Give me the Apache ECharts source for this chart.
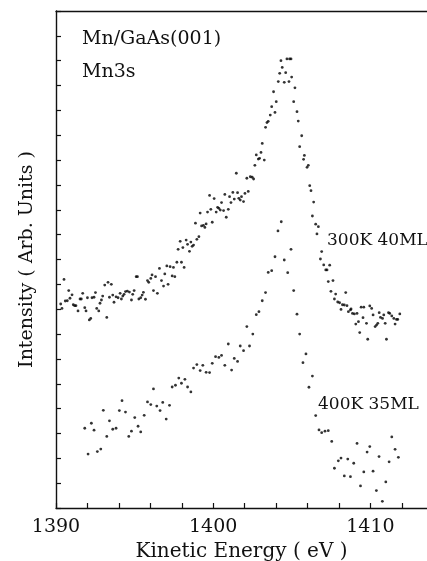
<!DOCTYPE html>
<html>
<head>
<meta charset="utf-8">
<script src="https://cdn.jsdelivr.net/npm/echarts@6/dist/echarts.min.js"></script>
<style>
  html, body { margin: 0; padding: 0; background: #fff; }
  #chart { width: 427px; height: 561px; }
</style>
</head>
<body>
<div id="chart"></div>
<script>
// 300K 40ML spectrum (upper)
const upperEnergy = [
  1390.30, 1390.38, 1390.51, 1390.59, 1390.72, 1390.81, 1390.89, 1391.02, 1391.10, 1391.19,
  1391.27, 1391.40, 1391.53, 1391.61, 1391.70, 1391.83, 1391.91, 1392.00, 1392.12, 1392.21,
  1392.29, 1392.42, 1392.51, 1392.59, 1392.72, 1392.80, 1392.89, 1392.97, 1393.10, 1393.23,
  1393.31, 1393.40, 1393.52, 1393.61, 1393.69, 1393.82, 1393.95, 1394.08, 1394.16, 1394.25,
  1394.33, 1394.42, 1394.54, 1394.67, 1394.80, 1394.88, 1394.97, 1395.10, 1395.18, 1395.27,
  1395.39, 1395.48, 1395.56, 1395.69, 1395.82, 1395.90, 1396.03, 1396.11, 1396.20, 1396.33,
  1396.45, 1396.58, 1396.71, 1396.84, 1396.92, 1397.05, 1397.13, 1397.26, 1397.39, 1397.47,
  1397.56, 1397.69, 1397.77, 1397.90, 1397.98, 1398.07, 1398.15, 1398.28, 1398.37, 1398.49,
  1398.58, 1398.66, 1398.75, 1398.87, 1398.96, 1399.09, 1399.17, 1399.26, 1399.38, 1399.47,
  1399.55, 1399.64, 1399.77, 1399.85, 1399.94, 1400.06, 1400.19, 1400.28, 1400.36, 1400.45,
  1400.53, 1400.66, 1400.74, 1400.83, 1400.96, 1401.04, 1401.13, 1401.25, 1401.34, 1401.47,
  1401.55, 1401.63, 1401.72, 1401.80, 1401.93, 1402.02, 1402.14, 1402.23, 1402.36, 1402.48,
  1402.57, 1402.65, 1402.74, 1402.87, 1402.95, 1403.04, 1403.12, 1403.25, 1403.33, 1403.42,
  1403.50, 1403.63, 1403.72, 1403.84, 1403.93, 1404.01, 1404.14, 1404.23, 1404.31, 1404.39,
  1404.52, 1404.61, 1404.69, 1404.82, 1404.86, 1404.95, 1404.99, 1405.12, 1405.20, 1405.33,
  1405.41, 1405.50, 1405.63, 1405.75, 1405.80, 1405.97, 1406.05, 1406.14, 1406.22, 1406.31,
  1406.39, 1406.52, 1406.60, 1406.69, 1406.82, 1406.90, 1407.03, 1407.16, 1407.24, 1407.32,
  1407.41, 1407.49, 1407.62, 1407.71, 1407.79, 1407.92, 1408.04, 1408.13, 1408.22, 1408.34,
  1408.43, 1408.51, 1408.60, 1408.73, 1408.77, 1408.86, 1408.98, 1409.07, 1409.15, 1409.24,
  1409.32, 1409.41, 1409.53, 1409.58, 1409.75, 1409.83, 1409.96, 1410.08, 1410.17, 1410.30,
  1410.39, 1410.47, 1410.56, 1410.64, 1410.77, 1410.85, 1410.94, 1411.02, 1411.15, 1411.23,
  1411.36, 1411.49, 1411.57, 1411.66, 1411.74, 1411.87
];
const upperIntensity = [
  8.21, 8.03, 9.20, 8.33, 8.34, 8.75, 8.44, 8.58, 8.18, 8.14,
  8.14, 7.93, 8.41, 8.41, 8.64, 8.06, 7.93, 8.46, 7.57, 7.63,
  8.46, 8.48, 8.67, 8.03, 7.93, 8.24, 8.37, 8.53, 8.97, 7.67,
  9.08, 8.48, 9.00, 8.57, 8.28, 8.50, 8.46, 8.64, 8.41, 8.53,
  8.60, 8.71, 8.73, 8.69, 8.37, 8.60, 8.75, 9.31, 9.31, 8.41,
  8.46, 8.57, 8.68, 8.40, 9.15, 9.08, 9.24, 9.38, 8.75, 9.31,
  8.64, 9.64, 9.15, 8.93, 9.42, 9.74, 9.00, 9.71, 9.34, 9.68,
  9.31, 9.89, 10.41, 10.73, 9.89, 10.48, 9.68, 10.78, 10.61, 10.33,
  10.70, 10.53, 10.58, 11.46, 10.81, 10.92, 11.87, 11.35, 11.37, 11.29,
  11.43, 11.91, 12.58, 12.02, 11.50, 12.45, 11.91, 12.10, 12.06, 11.99,
  12.29, 11.97, 12.62, 11.70, 12.02, 12.53, 12.29, 12.70, 12.43, 13.47,
  12.69, 12.46, 12.39, 12.53, 12.33, 12.66, 13.27, 12.74, 13.33, 13.31,
  13.24, 13.79, 14.21, 14.04, 14.07, 14.31, 14.67, 14.00, 15.32, 15.51,
  15.56, 15.81, 16.15, 16.75, 15.92, 16.35, 17.16, 17.49, 18.00, 17.73,
  17.13, 17.52, 18.07, 17.16, 18.07, 18.07, 17.34, 16.35, 16.91, 15.95,
  15.57, 14.54, 14.98, 14.03, 14.19, 13.71, 13.79, 12.97, 12.77, 11.75,
  12.31, 11.42, 11.03, 11.32, 10.02, 10.32, 9.78, 9.58, 9.58, 9.11,
  9.77, 8.72, 9.15, 8.41, 8.61, 8.29, 8.26, 7.99, 8.18, 8.17,
  8.67, 8.14, 7.90, 7.97, 8.01, 7.83, 7.81, 7.40, 7.83, 7.50,
  7.06, 8.08, 7.66, 8.08, 7.43, 6.79, 8.13, 8.03, 7.77, 7.30,
  7.36, 7.43, 7.86, 7.67, 7.63, 7.77, 7.43, 6.79, 7.86, 7.83,
  7.73, 7.63, 7.40, 7.59, 7.59, 7.81
];

// 400K 35ML spectrum (lower)
const lowerEnergy = [
  1391.83, 1392.04, 1392.25, 1392.42, 1392.63, 1392.85, 1393.01, 1393.23, 1393.40, 1393.61,
  1393.82, 1394.03, 1394.20, 1394.42, 1394.63, 1394.80, 1395.01, 1395.22, 1395.39, 1395.61,
  1395.82, 1396.03, 1396.20, 1396.41, 1396.62, 1396.79, 1397.01, 1397.22, 1397.39, 1397.60,
  1397.81, 1397.98, 1398.20, 1398.37, 1398.58, 1398.75, 1398.96, 1399.17, 1399.34, 1399.55,
  1399.77, 1399.94, 1400.15, 1400.36, 1400.53, 1400.74, 1400.96, 1401.17, 1401.34, 1401.55,
  1401.72, 1401.93, 1402.14, 1402.31, 1402.52, 1402.74, 1402.91, 1403.12, 1403.33, 1403.50,
  1403.72, 1403.93, 1404.12, 1404.33, 1404.52, 1404.74, 1404.95, 1405.12, 1405.33, 1405.50,
  1405.71, 1405.90, 1406.09, 1406.31, 1406.52, 1406.73, 1406.90, 1407.11, 1407.32, 1407.54,
  1407.71, 1407.96, 1408.13, 1408.34, 1408.56, 1408.73, 1408.94, 1409.15, 1409.37, 1409.58,
  1409.79, 1409.96, 1410.17, 1410.38, 1410.55, 1410.76, 1410.98, 1411.19, 1411.36, 1411.57,
  1411.78
];
const lowerIntensity = [
  3.21, 2.17, 3.41, 3.13, 2.27, 2.37, 3.93, 2.88, 3.51, 3.17,
  3.21, 3.92, 4.32, 3.86, 2.88, 3.09, 3.64, 3.29, 3.06, 3.73,
  4.27, 4.16, 4.79, 4.10, 3.92, 4.25, 3.58, 4.13, 4.87, 4.94,
  5.23, 5.02, 5.18, 4.87, 4.67, 5.63, 5.77, 5.53, 5.74, 5.46,
  5.45, 5.82, 6.09, 6.06, 6.14, 5.74, 6.60, 5.55, 6.02, 5.90,
  6.52, 6.33, 7.30, 6.52, 7.00, 7.78, 7.90, 8.34, 8.67, 9.48,
  9.55, 10.11, 11.15, 11.52, 9.98, 9.47, 10.41, 8.75, 7.80, 7.00,
  5.85, 6.20, 4.86, 5.31, 3.72, 3.14, 3.03, 3.09, 3.11, 2.68,
  1.60, 1.90, 2.01, 1.29, 1.97, 1.26, 1.80, 2.60, 0.89, 1.45,
  2.25, 2.47, 1.48, 0.70, 2.07, 0.27, 1.05, 1.86, 2.86, 2.36,
  2.04
];

const xLabels = [1390, 1400, 1410];

const serif = '"DejaVu Serif", "Liberation Serif", serif';
const ink = '#111';

const chart = echarts.init(document.getElementById('chart'));

function zip(xs, ys) {
    return xs.map((x, i) => [x, ys[i]]);
}

const axisLine = { show: true, lineStyle: { color: ink, width: 1.4 } };

chart.setOption({
    animation: false,
    backgroundColor: '#fff',
    grid: { left: 56, right: 0, top: 11, bottom: 53, outerBoundsMode: 'none', containLabel: false },
    xAxis: [{
        type: 'value',
        min: 1390,
        max: 1413.6,
        interval: 2,
        axisLine: axisLine,
        axisTick: { show: true, inside: true, length: 5, lineStyle: { color: ink, width: 1.2 } },
        axisLabel: {
            margin: 10,
            color: ink,
            fontFamily: serif,
            fontSize: 19,
            showMaxLabel: false,
            formatter: v => xLabels.includes(Math.round(v)) && Math.abs(v - Math.round(v)) < 1e-6 ? String(Math.round(v)) : ''
        },
        splitLine: { show: false },
        name: 'Kinetic Energy ( eV )',
        nameLocation: 'middle',
        nameGap: 33,
        nameTextStyle: { color: ink, fontFamily: serif, fontSize: 20 }
    }, {
        type: 'value',
        position: 'top',
        min: 1390,
        max: 1413.6,
        axisLine: axisLine,
        axisTick: { show: false },
        axisLabel: { show: false },
        splitLine: { show: false }
    }],
    yAxis: {
        type: 'value',
        min: 0,
        max: 20,
        interval: 1,
        axisLine: axisLine,
        axisTick: { show: true, inside: true, length: 5, lineStyle: { color: ink, width: 1.2 } },
        axisLabel: { show: false },
        splitLine: { show: false },
        name: 'Intensity ( Arb. Units )',
        nameLocation: 'middle',
        nameGap: 19,
        nameTextStyle: { color: ink, fontFamily: serif, fontSize: 19 }
    },
    series: [{
        name: '300K 40ML',
        type: 'scatter',
        symbol: 'circle',
        symbolSize: 2.8,
        itemStyle: { color: '#000' },
        data: zip(upperEnergy, upperIntensity)
    }, {
        name: '400K 35ML',
        type: 'scatter',
        symbol: 'circle',
        symbolSize: 2.8,
        itemStyle: { color: '#000' },
        data: zip(lowerEnergy, lowerIntensity)
    }],
    graphic: [
        { type: 'text', left: 82, top: 30, style: { text: 'Mn/GaAs(001)', fill: ink, font: '19px ' + serif } },
        { type: 'text', left: 82, top: 63, style: { text: 'Mn3s', fill: ink, font: '19px ' + serif } },
        { type: 'text', left: 327, top: 232, style: { text: '300K 40ML', fill: ink, font: '17px ' + serif } },
        { type: 'text', left: 318, top: 396, style: { text: '400K 35ML', fill: ink, font: '17px ' + serif } }
    ]
});
</script>
</body>
</html>
